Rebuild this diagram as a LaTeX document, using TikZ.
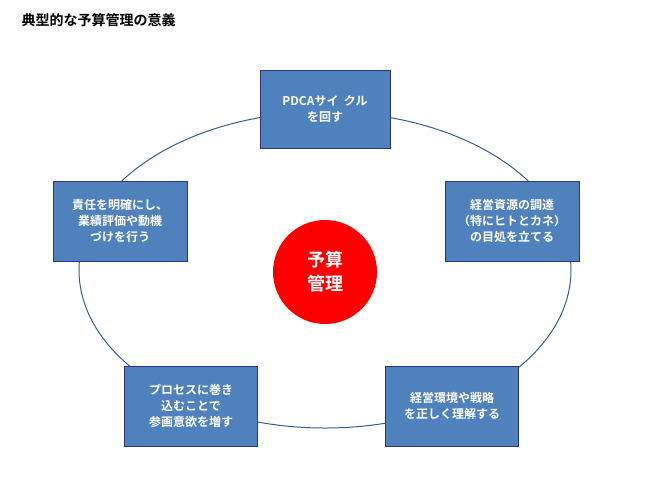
\documentclass[tikz,border=0pt]{standalone}
\usepackage{fontspec}
\newfontfamily\cjk{Noto Sans CJK JP}[BoldFont={Noto Sans CJK JP Bold}]
\begin{document}
\begin{tikzpicture}[x=1pt,y=-1pt,
  bx/.style={draw=blue!40!black!80!white, line width=1pt, fill={rgb,255:red,79;green,129;blue,189}, minimum width=134pt, minimum height=80pt, align=center, text=white, font=\cjk\bfseries\fontsize{12}{16}\selectfont, inner sep=2pt}]
\useasboundingbox (0,0) rectangle (650,488);
\node[anchor=west, font=\cjk\bfseries\fontsize{14}{16}\selectfont] (t) at (18,20) {典型的な予算管理の意義};
\draw[draw={rgb,255:red,56;green,93;blue,138}, line width=1pt] (325,270) ellipse [x radius=246, y radius=158];
\node[bx, minimum width=130pt, minimum height=78pt] (a) at (325,109) {PDCAサイ\ \ クル\\を回す};
\node[bx] (b) at (512,221) {経営資源の調達\\（特にヒトとカネ）\\の目処を立てる};
\node[bx] (c) at (120,221) {責任を明確にし、\\業績評価や動機\\づけを行う};
\node[bx, minimum width=133pt] (d) at (191,406) {プロセスに巻き\\込むことで\\参画意欲を増す};
\node[bx, minimum width=133pt] (e) at (452,406) {経営環境や戦略\\を正しく理解する};
\node[circle, fill=red, minimum size=104pt, text=white, align=center, font=\cjk\bfseries\fontsize{18}{24}\selectfont] (m) at (325,272) {予算\\管理};
\end{tikzpicture}
\end{document}
